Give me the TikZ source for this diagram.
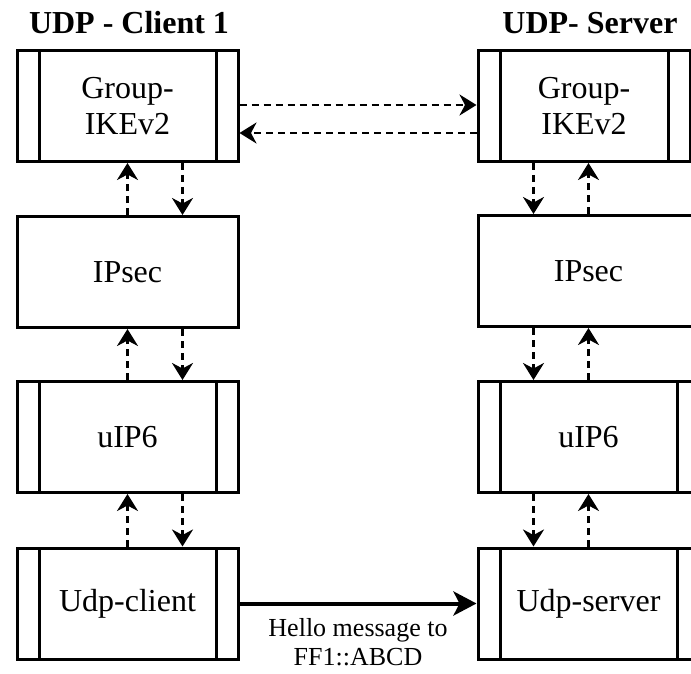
\documentclass[tikz,border=0pt]{standalone}
\usepackage{fontspec}
\setmainfont{Liberation Serif}
\usetikzlibrary{arrows.meta,calc}

\tikzset{
  box/.style={draw, line width=3pt, minimum width=221pt, minimum height=111pt,
    inner sep=0pt, align=center, font=\fontsize{32}{36}\selectfont},
  procbox/.style={box, path picture={
    \draw[line width=3pt]
      ([xshift=22pt]path picture bounding box.north west) -- ([xshift=22pt]path picture bounding box.south west)
      ([xshift=-22pt]path picture bounding box.north east) -- ([xshift=-22pt]path picture bounding box.south east);}},
  title/.style={font=\bfseries\fontsize{32}{36}\selectfont, inner sep=0pt},
  flow/.style={line width=2.8pt, dash pattern=on 7pt off 5pt,
    -{Stealth[length=17pt, width=21pt, inset=5.5pt]}},
  msg/.style={line width=4pt, -{Stealth[length=23pt, width=24pt, inset=6pt]}},
  msglabel/.style={font=\fontsize{26}{29}\selectfont, align=center, inner sep=0pt}
}

\begin{document}
\begin{tikzpicture}[x=1pt, y=-1pt]
  \useasboundingbox (0,0) rectangle (691,674);

  % column headings
  \node[title, anchor=base] (tc) at (129,34) {UDP - Client 1};
  \node[title, anchor=base] (ts) at (590,34) {UDP- Server};

  % client stack
  \node[procbox] (gL) at (127.5,106) {Group-\\IKEv2};
  \node[box]     (iL) at (127.5,272) {IPsec};
  \node[procbox] (uL) at (127.5,437) {uIP6};
  \node[procbox] (cL) at (127.5,603.5) {Udp-client};

  % server stack
  \node[procbox, minimum width=212pt] (gR) at (584,106) {Group-\\IKEv2};
  \node[box]     (iR) at (588.5,271) {IPsec};
  \node[procbox] (uR) at (588.5,437) {uIP6};
  \node[procbox] (sR) at (588.5,603.5) {Udp-server};

  % client stack: up and down paths
  \draw[flow] (iL.north) -- (iL.north |- gL.south);
  \draw[flow] ([xshift=55pt]gL.south) -- ([xshift=55pt]gL.south |- iL.north);
  \draw[flow] (uL.north) -- (uL.north |- iL.south);
  \draw[flow] ([xshift=55pt]iL.south) -- ([xshift=55pt]iL.south |- uL.north);
  \draw[flow] (cL.north) -- (cL.north |- uL.south);
  \draw[flow] ([xshift=55pt]uL.south) -- ([xshift=55pt]uL.south |- cL.north);

  % server stack: down and up paths
  \draw[flow] ([xshift=-55pt]iR.north |- gR.south) -- ([xshift=-55pt]iR.north);
  \draw[flow] (iR.north) -- (iR.north |- gR.south);
  \draw[flow] ([xshift=-55pt]iR.south) -- ([xshift=-55pt]uR.north);
  \draw[flow] (uR.north) -- (iR.south);
  \draw[flow] ([xshift=-55pt]uR.south) -- ([xshift=-55pt]sR.north);
  \draw[flow] (sR.north) -- (uR.south);

  % key exchange between the two Group-IKEv2 instances
  \draw[flow] ([yshift=1pt]gL.east) -- ([yshift=1pt]gL.east -| gR.west);
  \draw[flow] ([yshift=-27pt]gR.west) -- ([yshift=-27pt]gR.west -| gL.east);

  % application message
  \draw[msg] (cL.east) -- (cL.east -| sR.west)
    node[midway, below=13pt, msglabel] (hello) {Hello message to\\FF1::ABCD};
\end{tikzpicture}
\end{document}
